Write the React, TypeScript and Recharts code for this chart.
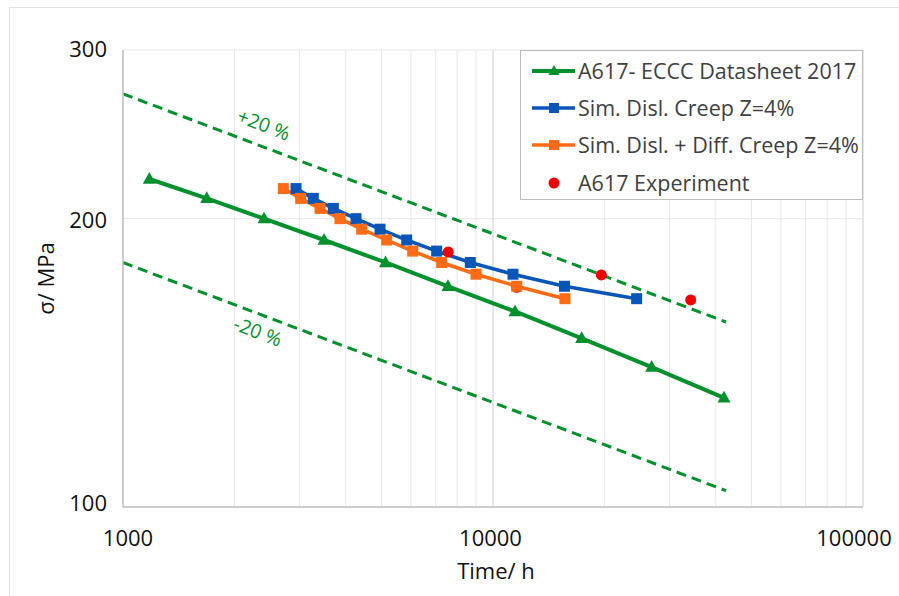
import React from 'react';
import {
  ComposedChart,
  Line,
  Scatter,
  XAxis,
  YAxis,
  CartesianGrid,
  Legend,
  ReferenceDot,
  ReferenceLine,
} from 'recharts';

// ---- data ----
const eccTime = [1178, 1684, 2405, 3494, 5122, 7556, 11468, 17366, 26840, 42110];
const eccStress = [220, 210, 200, 190, 180, 170, 160, 150, 140, 130];

const dislTime = [2935, 3268, 3702, 4264, 4950, 5845, 7043, 8682, 11325, 15605, 24450];
const dislStress = [215, 210, 205, 200, 195, 190, 185, 180, 175, 170, 165];

const diffTime = [2712, 3021, 3408, 3859, 4417, 5160, 6067, 7265, 8997, 11590, 15650];
const diffStress = [215, 210, 205, 200, 195, 190, 185, 180, 175, 170, 165];

const expTime = [7570, 11590, 19620, 34220];
const expStress = [184.6, 169.6, 174.7, 164.5];

const bandTime = [1000, 42640];
const upperStress = [270, 156];
const lowerStress = [180, 104];

const xTicks = [
  1000, 2000, 3000, 4000, 5000, 6000, 7000, 8000, 9000,
  10000, 20000, 30000, 40000, 50000, 60000, 70000, 80000, 90000, 100000,
];
const xLabels = [1000, 10000, 100000];
const yTicks = [100, 200, 300];

const seriesNames = [
  'A617- ECCC Datasheet 2017',
  'Sim. Disl. Creep Z=4%',
  'Sim. Disl. + Diff. Creep Z=4%',
  'A617 Experiment',
];
const bandLabels = ['+20 %', '-20 %'];
const bandLabelPos = [
  { t: 2405, s: 251 },
  { t: 2317, s: 152.6 },
];

const zip = (ts: number[], ss: number[]) => ts.map((t, i) => ({ t, s: ss[i] }));
const eccData = zip(eccTime, eccStress);
const dislData = zip(dislTime, dislStress);
const diffData = zip(diffTime, diffStress);
const expData = zip(expTime, expStress);
const upperData = zip(bandTime, upperStress);
const lowerData = zip(bandTime, lowerStress);

// ---- style ----
const GREEN = '#00912D';
const BLUE = '#0A55B8';
const ORANGE = '#FF6B14';
const RED = '#F00000';
const FONT = '"Open Sans", "Noto Sans", sans-serif';

const xShift: Record<number, number> = { 1000: 5, 10000: -2.5, 100000: -9 };
const yShift: Record<number, number> = { 300: -2, 200: 0, 100: -5 };

const XTick = (props: any) => {
  const { x, y, payload } = props;
  if (!xLabels.includes(payload.value)) return <g />;
  return (
    <text
      x={x + (xShift[payload.value] || 0)}
      y={y + 22}
      textAnchor="middle"
      dominantBaseline="central"
      fontFamily={FONT}
      fontSize={22}
      fill="#111"
    >
      {payload.value}
    </text>
  );
};

const YTick = (props: any) => {
  const { x, y, payload } = props;
  return (
    <text
      x={x - 8}
      y={y + (yShift[payload.value] || 0)}
      textAnchor="end"
      dominantBaseline="central"
      fontFamily={FONT}
      fontSize={22}
      fill="#111"
    >
      {payload.value}
    </text>
  );
};

const Triangle = ({ cx, cy, color, size = 13 }: any) => {
  const h = size * 0.9;
  return (
    <path
      d={`M${cx},${cy - h * 0.6} L${cx + size / 2},${cy + h * 0.4} L${cx - size / 2},${cy + h * 0.4} Z`}
      fill={color}
    />
  );
};

const Square = ({ cx, cy, color, size = 11 }: any) => (
  <rect x={cx - size / 2} y={cy - size / 2} width={size} height={size} fill={color} />
);

const triDot = (p: any) =>
  p.cx == null ? <g key={`t${p.index}`} /> : <Triangle key={`t${p.index}`} cx={p.cx} cy={p.cy} color={GREEN} />;
const blueDot = (p: any) =>
  p.cx == null ? <g key={`b${p.index}`} /> : <Square key={`b${p.index}`} cx={p.cx} cy={p.cy} color={BLUE} />;
const orangeDot = (p: any) =>
  p.cx == null ? <g key={`o${p.index}`} /> : <Square key={`o${p.index}`} cx={p.cx} cy={p.cy} color={ORANGE} />;

const LegendBox = () => {
  const rows = [
    { name: seriesNames[0], color: GREEN, kind: 'tri' },
    { name: seriesNames[1], color: BLUE, kind: 'sq' },
    { name: seriesNames[2], color: ORANGE, kind: 'sq' },
    { name: seriesNames[3], color: RED, kind: 'dot' },
  ];
  return (
    <div
      style={{
        width: 343,
        height: 150,
        boxSizing: 'border-box',
        border: '1.5px solid #bdbdbd',
        background: '#fff',
        paddingTop: 1,
      }}
    >
      {rows.map((r) => (
        <div
          key={r.name}
          style={{ height: 37.3, display: 'flex', alignItems: 'center' }}
        >
          <svg width={57} height={20} style={{ flex: 'none' }}>
            {r.kind !== 'dot' && (
              <line x1={11} y1={10} x2={54} y2={10} stroke={r.color} strokeWidth={r.kind === 'tri' ? 4 : 3.5} />
            )}
            {r.kind === 'tri' && <Triangle cx={33} cy={10} color={r.color} size={11} />}
            {r.kind === 'sq' && <Square cx={33} cy={10} color={r.color} size={10} />}
            {r.kind === 'dot' && <circle cx={33} cy={10} r={5.5} fill={r.color} />}
          </svg>
          <span
            style={{
              fontFamily: FONT,
              fontSize: 21.5,
              color: '#404040',
              whiteSpace: 'nowrap',
              lineHeight: '20px',
            }}
          >
            {r.name}
          </span>
        </div>
      ))}
    </div>
  );
};

const BandLabel = (text: string) => (p: any) => (
  <text
    x={p.cx}
    y={p.cy}
    transform={`rotate(21 ${p.cx} ${p.cy})`}
    textAnchor="middle"
    dominantBaseline="central"
    fontFamily={FONT}
    fontSize={19.5}
    fill={GREEN}
  >
    {text}
  </text>
);

const XTitle = (p: any) => {
  const vb = p.viewBox;
  return (
    <text
      x={vb.x + vb.width / 2 + 3}
      y={vb.y + 63}
      textAnchor="middle"
      dominantBaseline="central"
      fontFamily={FONT}
      fontSize={22}
      fill="#111"
    >
      Time/ h
    </text>
  );
};

const YTitle = (p: any) => {
  const vb = p.viewBox;
  const cx = vb.x + 22;
  const cy = vb.y + vb.height / 2;
  return (
    <text
      x={cx}
      y={cy}
      transform={`rotate(-90 ${cx} ${cy})`}
      textAnchor="middle"
      dominantBaseline="central"
      fontFamily={FONT}
      fontSize={22}
      fill="#111"
    >
      σ/ MPa
    </text>
  );
};

export default function App() {
  return (
    <div style={{ position: 'absolute', left: 0, top: 0, width: 899, height: 596, background: '#fff' }}>
      <div
        style={{
          position: 'absolute',
          left: 9,
          top: 7,
          right: 0,
          bottom: 0,
          borderLeft: '1px solid #e3e3e3',
          borderTop: '1px solid #e3e3e3',
        }}
      />
      <ComposedChart
        width={899}
        height={596}
        margin={{ top: 50, right: 36, bottom: 49, left: 23 }}
        style={{ position: 'absolute', left: 0, top: 0 }}
      >
        <CartesianGrid stroke="#e8e8e8" strokeWidth={1} />
        <XAxis
          type="number"
          dataKey="t"
          scale="log"
          domain={[1000, 100000]}
          ticks={xTicks}
          interval={0}
          tickLine={false}
          axisLine={{ stroke: '#bfbfbf', strokeWidth: 1.5 }}
          tick={<XTick />}
          height={40}
          allowDataOverflow
          label={{ content: <XTitle /> } as any}
        />
        <YAxis
          type="number"
          dataKey="s"
          scale="log"
          domain={[100, 300]}
          ticks={yTicks}
          interval={0}
          tickLine={false}
          axisLine={{ stroke: '#bfbfbf', strokeWidth: 1.5 }}
          tick={<YTick />}
          width={100}
          allowDataOverflow
          label={{ content: <YTitle /> } as any}
        />
        <ReferenceLine x={10000} stroke="#dadada" strokeWidth={1} />
        <ReferenceLine x={100000} stroke="#dadada" strokeWidth={1} />
        <Legend
          layout="vertical"
          align="center"
          verticalAlign="middle"
          wrapperStyle={{ left: 520, top: 50, width: 343, height: 150 }}
          content={<LegendBox />}
        />
        <Line
          data={upperData}
          dataKey="s"
          stroke={GREEN}
          strokeWidth={3}
          strokeDasharray="10 6"
          dot={false}
          activeDot={false}
          isAnimationActive={false}
          legendType="none"
        />
        <Line
          data={lowerData}
          dataKey="s"
          stroke={GREEN}
          strokeWidth={3}
          strokeDasharray="10 6"
          dot={false}
          activeDot={false}
          isAnimationActive={false}
          legendType="none"
        />
        <Line
          data={eccData}
          dataKey="s"
          name={seriesNames[0]}
          stroke={GREEN}
          strokeWidth={4}
          dot={triDot}
          activeDot={false}
          isAnimationActive={false}
        />
        <Line
          data={dislData}
          dataKey="s"
          name={seriesNames[1]}
          stroke={BLUE}
          strokeWidth={3.5}
          dot={blueDot}
          activeDot={false}
          isAnimationActive={false}
        />
        <Line
          data={diffData}
          dataKey="s"
          name={seriesNames[2]}
          stroke={ORANGE}
          strokeWidth={3.5}
          dot={orangeDot}
          activeDot={false}
          isAnimationActive={false}
        />
        <Scatter
          data={expData}
          dataKey="s"
          name={seriesNames[3]}
          fill={RED}
          shape={(p: any) => <circle cx={p.cx} cy={p.cy} r={5.5} fill={RED} />}
          isAnimationActive={false}
        />
        {bandLabels.map((txt, i) => (
          <ReferenceDot
            key={txt}
            x={bandLabelPos[i].t}
            y={bandLabelPos[i].s}
            r={0}
            shape={BandLabel(txt)}
          />
        ))}
      </ComposedChart>
    </div>
  );
}
